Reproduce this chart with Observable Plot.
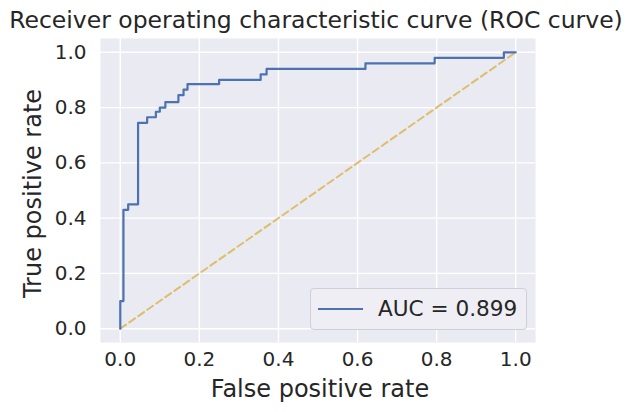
<!DOCTYPE html>
<html>
<head>
<meta charset="utf-8">
<script src="https://cdn.jsdelivr.net/npm/d3@7"></script>
<script src="https://cdn.jsdelivr.net/npm/@observablehq/plot@0.6"></script>
<style>
  body { margin: 0; background: white; }
  #wrap { position: relative; width: 627px; height: 412px; font-family: "DejaVu Sans", sans-serif; color: #262626; }
  #title { position: absolute; left: 0; top: 5px; width: 632px; text-align: center; font-size: 23.5px; line-height: 30px; white-space: nowrap; }
  #legend { position: absolute; left: 310px; top: 288px; width: 217px; height: 42px; box-sizing: border-box; border: 1px solid #cfcfd6; border-radius: 4px; background: #EEEEF4; }
  #legend .sw { position: absolute; left: 7px; top: 19px; width: 45px; height: 2px; background: #4C72B0; }
  #legend .lb { position: absolute; left: 67px; top: 0; line-height: 40px; font-size: 21.6px; white-space: nowrap; }
</style>
</head>
<body>
<div id="wrap">
  <div id="chart"></div>
  <div id="title"></div>
  <div id="legend"><div class="sw"></div><div class="lb"></div></div>
</div>
<script>
const titleText = "Receiver operating characteristic curve (ROC curve)";
const xLabel = "False positive rate";
const yLabel = "True positive rate";
const legendLabel = "AUC = 0.899";
const ticks = [0, 0.2, 0.4, 0.6, 0.8, 1.0];
const fpr = [0,0,0.008,0.008,0.02,0.02,0.045,0.045,0.068,0.068,0.09,0.09,0.10,0.10,0.114,0.114,0.147,0.147,0.16,0.16,0.17,0.17,0.25,0.25,0.355,0.355,0.37,0.37,0.62,0.62,0.795,0.795,0.97,0.97,1];
const tpr = [0,0.10,0.10,0.43,0.43,0.45,0.45,0.745,0.745,0.765,0.765,0.785,0.785,0.80,0.80,0.82,0.82,0.845,0.845,0.865,0.865,0.885,0.885,0.90,0.90,0.92,0.92,0.94,0.94,0.96,0.96,0.98,0.98,1,1];
const chance = [0, 1];

const roc = fpr.map((f, i) => ({fpr: f, tpr: tpr[i]}));
const diag = chance.map(v => ({x: v, y: v}));

document.getElementById("title").textContent = titleText;
document.querySelector("#legend .lb").textContent = legendLabel;

const chart = Plot.plot({
  width: 627,
  height: 412,
  marginLeft: 100,
  marginRight: 92,
  marginTop: 38,
  marginBottom: 70,
  x: {domain: [-0.05, 1.05]},
  y: {domain: [-0.05, 1.05]},
  style: {fontFamily: "DejaVu Sans", color: "#262626", background: "white", overflow: "visible"},
  marks: [
    Plot.frame({fill: "#EAEAF2", stroke: null}),
    Plot.gridX(ticks, {stroke: "white", strokeOpacity: 1, strokeWidth: 1.4}),
    Plot.gridY(ticks, {stroke: "white", strokeOpacity: 1, strokeWidth: 1.4}),
    Plot.axisX(ticks, {tickSize: 0, tickPadding: 9, fontSize: 20, tickFormat: d3.format(".1f"), label: null}),
    Plot.axisY(ticks, {tickSize: 0, tickPadding: 14, fontSize: 20, tickFormat: d3.format(".1f"), label: null}),
    Plot.text([xLabel], {frameAnchor: "bottom", textAnchor: "middle", dx: 2, dy: 54, fontSize: 24, fill: "#262626"}),
    Plot.text([yLabel], {frameAnchor: "left", textAnchor: "middle", dx: -67, dy: 3, rotate: -90, fontSize: 24, fill: "#262626"}),
    Plot.line(diag, {x: "x", y: "y", stroke: "#DDBE6A", strokeWidth: 2, strokeDasharray: "7,4"}),
    Plot.line(roc, {x: "fpr", y: "tpr", stroke: "#4C72B0", strokeWidth: 2.2})
  ]
});
document.getElementById("chart").appendChild(chart);
</script>
</body>
</html>
